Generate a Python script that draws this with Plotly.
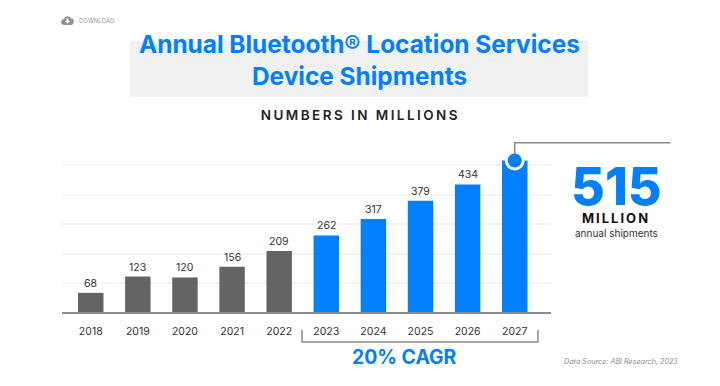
import plotly.graph_objects as go

years = ["2018","2019","2020","2021","2022","2023","2024","2025","2026","2027"]
values = [68,123,120,156,209,262,317,379,434,515]
bar_colors = ["#636466"]*5 + ["#0080FF"]*5
labels = ["68","123","120","156","209","262","317","379","434",""]
title_lines = ["Annual Bluetooth® Location Services","Device Shipments"]
W, H = 720, 386
BLUE = "#0080FF"
FONT = "Inter"

def px(x): return x / W
def py(y): return 1 - y / H

fig = go.Figure()
fig.add_trace(go.Bar(x=years, y=values, marker=dict(color=bar_colors, line_width=0),
                     hoverinfo="skip", showlegend=False))
fig.add_trace(go.Scatter(x=[years[-1]], y=[values[-1]], mode="markers", cliponaxis=False,
                         marker=dict(size=17, color=BLUE, line=dict(color="white", width=3)),
                         hoverinfo="skip", showlegend=False))

def txt(x, y, s, size, color="#222", weight=400, style="normal"):
    fig.add_annotation(xref="paper", yref="paper", x=px(x), y=py(y), text=s, showarrow=False,
                       xanchor="center", yanchor="middle", align="center",
                       font=dict(family=FONT, size=size, color=color, weight=weight, style=style))

for i, (v, l) in enumerate(zip(values, labels)):
    if l:
        fig.add_annotation(xref="x", yref="y", x=i, y=v, text=l, showarrow=False, yanchor="bottom", yshift=1,
                           bgcolor="white", borderpad=1,
                           font=dict(family=FONT, size=10.5, color="#333"))

txt(359, 44, title_lines[0], 24.4, BLUE, 700)
txt(359, 76, title_lines[1], 24.4, BLUE, 700)
txt(360, 115, "NUMBERS IN MILLIONS", 13.5, "#222", 600)
txt(96, 21, "DOWNLOAD", 6, "#999", 400)
txt(616, 187, "515", 52, BLUE, 800)
txt(616, 218, "MILLION", 13, "#111", 700)
txt(616.5, 233, "annual shipments", 10, "#333", 400)
txt(404, 356.5, "20% CAGR", 19.4, BLUE, 700)
txt(620.5, 361, "Data Source: ABI Research, 2023", 7.2, "#8a8a8a", 400, "italic")

def paper_line(points, color="#8a8a8a", width=1.5):
    d = "M " + " L ".join(f"{px(x):.5f},{py(y):.5f}" for x, y in points)
    fig.add_shape(type="path", xref="paper", yref="paper", path=d, layer="above",
                  line=dict(color=color, width=width))

# title band
fig.add_shape(type="rect", xref="paper", yref="paper", x0=px(130), x1=px(588), y0=py(97), y1=py(41),
              fillcolor="#F1F1F1", line_width=0, layer="below")
# callout leader
paper_line([(514.7, 154), (514.7, 142.7), (670.5, 142.7)])
# CAGR bracket
paper_line([(302, 330), (302, 342), (538, 342), (538, 330)])
# baseline
paper_line([(62, 313), (551, 313)], "#8c8c8c", 2)
# download cloud icon
fig.add_shape(type="path", xref="paper", yref="paper", layer="above", line_width=0, fillcolor="#8f8f8f",
              path=f"M {px(64.5):.5f},{py(25):.5f}"
                   f" C {px(60.5):.5f},{py(25):.5f} {px(60):.5f},{py(19.5):.5f} {px(64):.5f},{py(19):.5f}"
                   f" C {px(65):.5f},{py(15.5):.5f} {px(70):.5f},{py(15.5):.5f} {px(71):.5f},{py(18.5):.5f}"
                   f" C {px(75):.5f},{py(18):.5f} {px(74.5):.5f},{py(25):.5f} {px(71):.5f},{py(25):.5f} Z")
fig.add_shape(type="path", xref="paper", yref="paper", layer="above", line_width=0, fillcolor="white",
              path=" ".join(["M"] + [f"{'L ' if i else ''}{px(x):.5f},{py(y):.5f}" for i, (x, y) in enumerate(
                  [(66.5,18.5),(68.5,18.5),(68.5,21),(70.2,21),(67.5,23.8),(64.8,21),(66.5,21)])]) + " Z")

fig.update_layout(
    width=W, height=H, autosize=False, margin=dict(l=0, r=0, t=0, b=0),
    paper_bgcolor="white", plot_bgcolor="white", bargap=0.46,
    font=dict(family=FONT),
    xaxis=dict(domain=[px(62), px(551)], type="category", range=[-0.61, 9.77], showgrid=False,
               showline=False, ticks="", ticklabelstandoff=10, fixedrange=True,
               tickfont=dict(family=FONT, size=10.5, color="#333")),
    yaxis=dict(domain=[py(313), py(135.3)], range=[0, 600], dtick=100, showticklabels=False,
               gridcolor="#F2F2F2", gridwidth=1.5, zeroline=False, showline=False, fixedrange=True),
)

post = """
document.body.style.margin = '0';
document.querySelectorAll('.annotation-text').forEach(function(t){
  if (t.textContent === 'NUMBERS IN MILLIONS') t.style.letterSpacing = '2.45px';
  if (t.textContent === 'MILLION') t.style.letterSpacing = '2px';
});
"""
fig.write_html("out.html", config={"displayModeBar": False}, post_script=post)
